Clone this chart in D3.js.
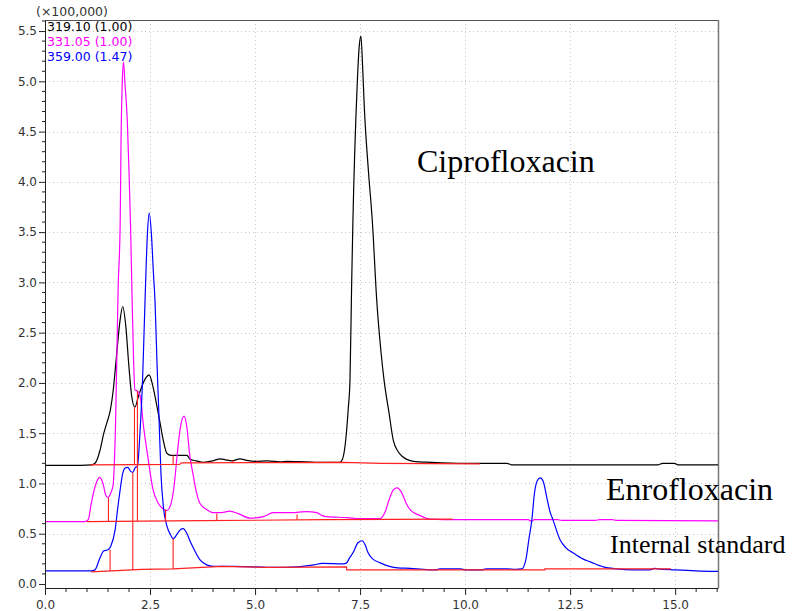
<!DOCTYPE html>
<html><head><meta charset="utf-8">
<script src="https://cdn.jsdelivr.net/npm/d3@7/dist/d3.min.js"></script>
<style>html,body{margin:0;padding:0;background:#fff;}svg{display:block;}</style>
</head><body>
<svg id="c" width="794" height="611"></svg>
<script>
// ---- data (time in min, intensity in ×100,000) ----
const xTicks = [0, 2.5, 5.0, 7.5, 10.0, 12.5, 15.0];
const yTicks = [0, 0.5, 1.0, 1.5, 2.0, 2.5, 3.0, 3.5, 4.0, 4.5, 5.0, 5.5];
const seriesNames = ["319.10 (1.00)", "331.05 (1.00)", "359.00 (1.47)"];
const seriesColors = ["#000000", "#ff00ff", "#0000ff"];
const compoundLabels = ["Ciprofloxacin", "Enrofloxacin", "Internal standard"];

const trace319 = [[0,1.18],[0.6,1.18],[1.1,1.185],[1.19,1.2],[1.31,1.33],[1.4,1.5],[1.47,1.6],[1.55,1.72],[1.63,1.95],[1.7,2.26],[1.78,2.6],[1.85,2.76],[1.92,2.58],[2.0,2.15],[2.07,1.85],[2.14,1.76],[2.22,1.86],[2.3,1.96],[2.4,2.05],[2.48,2.08],[2.56,1.98],[2.65,1.8],[2.74,1.6],[2.82,1.42],[2.9,1.3],[3.0,1.28],[3.38,1.28],[3.45,1.24],[3.6,1.225],[3.77,1.21],[4.0,1.225],[4.17,1.245],[4.3,1.235],[4.45,1.225],[4.64,1.245],[4.8,1.23],[5.0,1.22],[5.3,1.225],[5.6,1.215],[5.76,1.22],[6.2,1.215],[6.62,1.21],[7.02,1.21],[7.08,1.24],[7.15,1.4],[7.22,1.75],[7.26,2.03],[7.3,3.0],[7.33,3.62],[7.43,4.95],[7.48,5.35],[7.52,5.45],[7.56,5.15],[7.6,4.75],[7.7,4.1],[7.79,3.62],[7.9,2.8],[8.0,2.3],[8.07,2.03],[8.19,1.7],[8.29,1.43],[8.4,1.32],[8.5,1.27],[8.77,1.22],[9.2,1.21],[10.0,1.2],[11.0,1.2],[11.1,1.185],[14.6,1.185],[14.7,1.2],[14.98,1.2],[15.07,1.185],[16.02,1.185]];

const trace331 = [[0,0.62],[0.95,0.62],[1.03,0.64],[1.1,0.8],[1.2,0.98],[1.3,1.06],[1.38,1.0],[1.45,0.88],[1.5,0.86],[1.56,0.9],[1.62,0.98],[1.68,1.6],[1.74,2.93],[1.79,3.6],[1.81,4.4],[1.84,5.0],[1.87,5.19],[1.9,5.0],[1.96,4.6],[2.0,4.1],[2.04,3.5],[2.07,2.9],[2.11,2.2],[2.14,1.93],[2.2,1.92],[2.26,1.88],[2.35,1.55],[2.45,1.26],[2.57,0.94],[2.7,0.8],[2.8,0.75],[2.9,0.73],[3.0,0.8],[3.08,1.0],[3.14,1.26],[3.22,1.55],[3.31,1.67],[3.38,1.55],[3.44,1.3],[3.52,1.1],[3.6,0.92],[3.69,0.8],[3.85,0.74],[4.0,0.71],[4.2,0.71],[4.4,0.725],[4.6,0.7],[4.88,0.655],[5.2,0.67],[5.43,0.71],[5.9,0.71],[6.05,0.715],[6.23,0.72],[6.47,0.71],[6.6,0.68],[6.7,0.67],[7.19,0.66],[7.5,0.65],[7.98,0.65],[8.1,0.72],[8.2,0.85],[8.3,0.94],[8.38,0.955],[8.5,0.9],[8.6,0.8],[8.69,0.74],[8.93,0.68],[9.17,0.645],[9.8,0.64],[11.5,0.64],[11.58,0.625],[11.65,0.64],[12.2,0.64],[12.3,0.632],[13.1,0.632],[13.2,0.64],[13.5,0.64],[13.6,0.632],[16.02,0.628]];

const trace359 = [[0,0.13],[1.1,0.13],[1.19,0.14],[1.3,0.25],[1.4,0.33],[1.5,0.34],[1.57,0.38],[1.67,0.54],[1.73,0.75],[1.79,0.94],[1.85,1.1],[1.9,1.15],[1.97,1.16],[2.04,1.12],[2.09,1.11],[2.15,1.16],[2.2,1.17],[2.26,1.5],[2.32,2.0],[2.38,2.8],[2.44,3.5],[2.48,3.69],[2.53,3.5],[2.58,3.1],[2.62,2.8],[2.67,2.15],[2.71,1.7],[2.76,1.1],[2.82,0.76],[2.9,0.58],[3.0,0.48],[3.05,0.45],[3.15,0.5],[3.22,0.54],[3.29,0.55],[3.38,0.5],[3.46,0.42],[3.53,0.36],[3.69,0.24],[3.85,0.19],[4.0,0.175],[4.5,0.175],[5.0,0.17],[5.5,0.165],[6.0,0.17],[6.4,0.19],[6.6,0.205],[7.1,0.2],[7.18,0.21],[7.25,0.26],[7.33,0.31],[7.45,0.41],[7.55,0.43],[7.62,0.39],[7.69,0.31],[7.8,0.25],[7.98,0.21],[8.4,0.16],[8.7,0.155],[9.0,0.145],[9.3,0.14],[9.4,0.15],[9.9,0.15],[10.0,0.14],[10.4,0.14],[10.5,0.15],[11.0,0.15],[11.2,0.145],[11.35,0.15],[11.45,0.25],[11.52,0.45],[11.59,0.64],[11.65,0.9],[11.72,1.03],[11.79,1.055],[11.86,1.02],[11.95,0.85],[12.02,0.72],[12.09,0.64],[12.26,0.44],[12.4,0.36],[12.57,0.31],[12.8,0.25],[12.98,0.22],[13.29,0.17],[13.6,0.15],[14.0,0.14],[14.4,0.14],[14.5,0.155],[14.6,0.15],[15.0,0.14],[15.5,0.13],[16.02,0.125]];

// integration baselines (red)
const base319 = [[1.07,1.185],[3.2,1.19],[3.25,1.205],[7.1,1.21],[8.0,1.2],[10.35,1.195]];
const base331 = [[1.0,0.62],[3.7,0.63],[6.7,0.64],[9.7,0.645]];
const base359 = [[1.1,0.12],[1.35,0.125],[2.3,0.145],[3.05,0.15],[4.2,0.175],[5.3,0.165],[7.18,0.17],[7.18,0.14],[11.9,0.14],[11.9,0.15],[14.9,0.15]];
// peak drop lines: [time, from, to]
const drops319 = [[2.13,1.187,1.76],[3.05,1.19,1.28],[4.47,1.207,1.23],[5.05,1.208,1.225]];
const drops331 = [[1.51,0.62,0.86],[2.2,0.623,1.92],[2.87,0.625,0.74],[4.09,0.632,0.70],[6.0,0.64,0.69]];
const drops359 = [[1.55,0.128,0.34],[2.09,0.14,1.11],[3.05,0.15,0.45]];

// ---- layout ----
const svg = d3.select("#c");
const L = 45, R = 718, T = 20, B = 588;
const x = d3.scaleLinear().domain([0, 16.02]).range([L, R]);
const y = d3.scaleLinear().domain([-0.04, 5.61]).range([B, T]);

// grid
const grid = svg.append("g").attr("stroke", "#c8c8c8").attr("stroke-width", 1).attr("stroke-dasharray", "1,3");
grid.selectAll("line.gx").data(xTicks.filter(d => d > 0)).join("line")
  .attr("x1", d => Math.round(x(d)) + 0.5).attr("x2", d => Math.round(x(d)) + 0.5)
  .attr("y1", T).attr("y2", B);
grid.selectAll("line.gy").data(yTicks.filter(d => d > 0)).join("line")
  .attr("y1", d => Math.round(y(d)) + 0.5).attr("y2", d => Math.round(y(d)) + 0.5)
  .attr("x1", L).attr("x2", R);

// frame
svg.append("line").attr("x1", L).attr("x2", R).attr("y1", T + 0.5).attr("y2", T + 0.5).attr("stroke", "#555").attr("stroke-width", 1);
svg.append("line").attr("x1", R + 0.5).attr("x2", R + 0.5).attr("y1", T).attr("y2", B).attr("stroke", "#777").attr("stroke-width", 1.5);

// traces
const lineGen = d3.line().x(d => x(d[0])).y(d => y(d[1])).curve(d3.curveMonotoneX);
const traces = [trace319, trace331, trace359];
traces.forEach((tr, i) => {
  svg.append("path").datum(tr).attr("d", lineGen)
    .attr("fill", "none").attr("stroke", seriesColors[i]).attr("stroke-width", 1.2)
    .attr("stroke-linejoin", "round");
});

// red integration marks
const straight = d3.line().x(d => x(d[0])).y(d => y(d[1]));
[base319, base331, base359].forEach(b => {
  svg.append("path").datum(b).attr("d", straight).attr("fill", "none")
    .attr("stroke", "#ff2020").attr("stroke-width", 1.1);
});
[drops319, drops331, drops359].forEach(ds => {
  svg.append("g").selectAll("line").data(ds).join("line")
    .attr("x1", d => x(d[0])).attr("x2", d => x(d[0]))
    .attr("y1", d => y(d[1])).attr("y2", d => y(d[2]))
    .attr("stroke", "#ff2020").attr("stroke-width", 1.1);
});

// axes
const xAxis = d3.axisBottom(x).tickValues(xTicks).tickFormat(d3.format(".1f")).tickSize(7).tickSizeOuter(0);
const gx = svg.append("g").attr("transform", `translate(0,${B})`).call(xAxis);
gx.select(".domain").attr("stroke", "#222");
gx.selectAll(".tick line").attr("stroke", "#222");
gx.selectAll(".tick text").attr("font-family", "DejaVu Sans").attr("font-size", 12).attr("fill", "#333").attr("dy", "0.9em");
const xMinor = d3.range(0, 16.01, 0.5).filter(v => Math.abs(v / 2.5 - Math.round(v / 2.5)) > 1e-6);
svg.append("g").selectAll("line").data(xMinor).join("line")
  .attr("x1", d => x(d)).attr("x2", d => x(d)).attr("y1", B).attr("y2", B + 4).attr("stroke", "#222");

const yAxis = d3.axisLeft(y).tickValues(yTicks).tickFormat(d3.format(".1f")).tickSize(6).tickSizeOuter(0);
const gy = svg.append("g").attr("transform", `translate(${L},0)`).call(yAxis);
gy.select(".domain").attr("stroke", "#222");
gy.selectAll(".tick line").attr("stroke", "#222");
gy.selectAll(".tick text").attr("font-family", "DejaVu Sans").attr("font-size", 12).attr("fill", "#333").attr("x", -8);
const yMinor = d3.range(0, 5.61, 0.1).filter(v => Math.abs(v / 0.5 - Math.round(v / 0.5)) > 1e-6);
svg.append("g").selectAll("line").data(yMinor).join("line")
  .attr("x1", L - 3).attr("x2", L).attr("y1", d => y(d)).attr("y2", d => y(d)).attr("stroke", "#222");

// unit label
svg.append("text").attr("x", 36).attr("y", 16).attr("font-family", "DejaVu Sans").attr("font-size", 12.5)
  .attr("fill", "#333").text("(×100,000)");

// legend
svg.append("g").selectAll("text").data(seriesNames).join("text")
  .attr("x", 47).attr("y", (d, i) => 31 + i * 15)
  .attr("font-family", "DejaVu Sans").attr("font-size", 12.5)
  .attr("fill", (d, i) => seriesColors[i]).text(d => d);

// compound annotations
const annPos = [[417, 172, 32], [606, 500, 32], [610, 553, 26]];
svg.append("g").selectAll("text").data(compoundLabels).join("text")
  .attr("x", (d, i) => annPos[i][0]).attr("y", (d, i) => annPos[i][1])
  .attr("font-size", (d, i) => annPos[i][2])
  .attr("font-family", "Liberation Serif, Times New Roman, serif").attr("fill", "#000").text(d => d);
</script>
</body></html>
